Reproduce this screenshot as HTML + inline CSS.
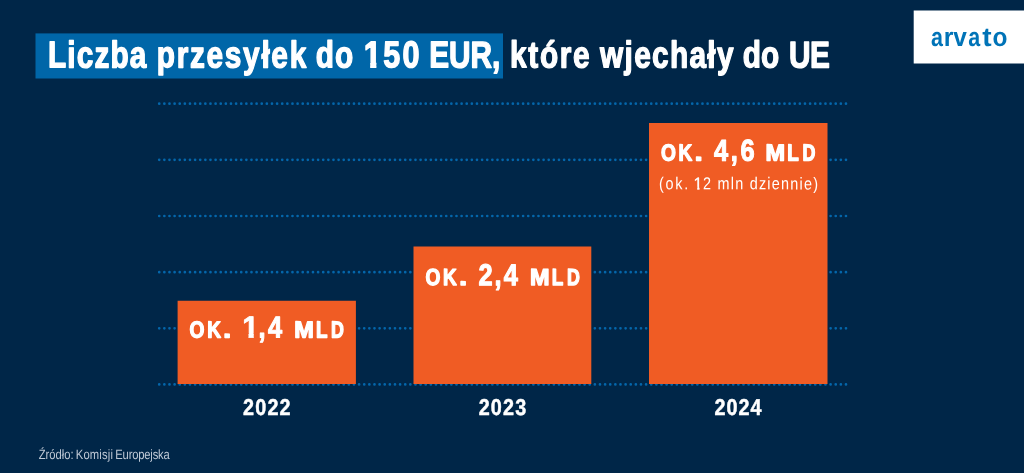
<!DOCTYPE html>
<html lang="pl"><head><meta charset="utf-8"><title>Liczba przesyłek do 150 EUR, które wjechały do UE</title>
<style>
html,body{margin:0;padding:0;background:#002648;overflow:hidden}
svg{display:block}
text{font-family:"Liberation Sans",sans-serif;white-space:pre;text-rendering:geometricPrecision;vector-effect:non-scaling-stroke;stroke-linejoin:round}
</style></head><body>
<svg width="1024" height="473" viewBox="0 0 1024 473">
<rect width="1024" height="473" fill="#002648"/>
<line x1="159.23" x2="846.5" y1="103.71" y2="103.71" stroke="#0466aa" stroke-width="2.7" stroke-linecap="round" stroke-dasharray="0 5.125"/>
<line x1="159.23" x2="846.5" y1="159.86" y2="159.86" stroke="#0466aa" stroke-width="2.7" stroke-linecap="round" stroke-dasharray="0 5.125"/>
<line x1="159.23" x2="846.5" y1="216.01" y2="216.01" stroke="#0466aa" stroke-width="2.7" stroke-linecap="round" stroke-dasharray="0 5.125"/>
<line x1="159.23" x2="846.5" y1="272.16" y2="272.16" stroke="#0466aa" stroke-width="2.7" stroke-linecap="round" stroke-dasharray="0 5.125"/>
<line x1="159.23" x2="846.5" y1="328.31" y2="328.31" stroke="#0466aa" stroke-width="2.7" stroke-linecap="round" stroke-dasharray="0 5.125"/>
<line x1="159.23" x2="846.5" y1="384.46" y2="384.46" stroke="#0466aa" stroke-width="2.7" stroke-linecap="round" stroke-dasharray="0 5.125"/>
<rect x="35.5" y="33.4" width="467.5" height="45.1" fill="#0066a8"/>
<rect x="177.6" y="300.75" width="178.3" height="83.25" fill="#f05c24"/>
<rect x="413.5" y="246.5" width="177.8" height="137.50" fill="#f05c24"/>
<rect x="649.0" y="123.0" width="178.5" height="261.00" fill="#f05c24"/>
<rect x="913.7" y="10.5" width="110.3" height="53.0" fill="#fff"/>
<clipPath id="k1"><path clip-rule="evenodd" d="M-99 -999H2999V999H-99ZM454.89 61.58H462.85V68.73H454.89ZM470.50 61.58H477.46V68.73H470.50Z"/></clipPath>
<text transform="rotate(0.05) scale(0.8 1)" fill="#fff" stroke="#fff" font-weight="700" clip-path="url(#k1)"><tspan x="60.17" y="67.33" font-size="37.24" stroke-width="1.35" letter-spacing="1.388">Liczba </tspan><tspan x="196.04" y="67.24" font-size="37.24" stroke-width="1.35" letter-spacing="2.133">przesyłek </tspan><tspan x="394.67" y="67.10" font-size="37.24" stroke-width="1.35" letter-spacing="1.313">do </tspan><tspan x="454.87" y="67.06" font-size="37.24" stroke-width="1.35" textLength="21.74" lengthAdjust="spacingAndGlyphs">1</tspan><tspan x="479.14" y="67.04" font-size="37.24" stroke-width="1.35" textLength="21.20" lengthAdjust="spacingAndGlyphs">5</tspan><tspan x="503.26" y="67.02" font-size="37.24" stroke-width="1.35" textLength="31.82" lengthAdjust="spacingAndGlyphs">0 </tspan><tspan x="536.79" y="67.00" font-size="37.24" stroke-width="1.35" letter-spacing="-0.146">EUR, </tspan><tspan x="637.67" y="66.93" font-size="37.24" stroke-width="1.35" letter-spacing="2.078">które </tspan><tspan x="750.17" y="66.85" font-size="37.24" stroke-width="1.35" letter-spacing="1.652">wjechały </tspan><tspan x="928.54" y="66.73" font-size="37.24" stroke-width="1.35" letter-spacing="0.187">do </tspan><tspan x="986.42" y="66.69" font-size="37.24" stroke-width="1.35" letter-spacing="-0.813">UE</tspan></text>
<clipPath id="k2"><path clip-rule="evenodd" d="M-99 -999H2999V999H-99ZM288.92 333.09H296.19V338.94H288.92ZM302.44 333.09H308.77V338.94H302.44Z"/></clipPath>
<text transform="rotate(0.05) scale(0.84 1)" fill="#fff" stroke="#fff" font-weight="700" clip-path="url(#k2)"><tspan x="226.06" y="337.31" font-size="23.2" stroke-width="1.35" textLength="17.72" lengthAdjust="spacingAndGlyphs">O</tspan><tspan x="246.96" y="337.29" font-size="23.2" stroke-width="1.35" textLength="16.29" lengthAdjust="spacingAndGlyphs">K</tspan><tspan x="266.13" y="337.28" font-size="23.2" stroke-width="1.35" textLength="18.65" lengthAdjust="spacingAndGlyphs">. </tspan><tspan x="288.73" y="337.59" font-size="30.84" stroke-width="0.7" textLength="19.50" lengthAdjust="spacingAndGlyphs">1</tspan><tspan x="308.05" y="337.37" font-size="30.25" stroke-width="1.1" letter-spacing="2.833">,4 </tspan><tspan x="350.54" y="337.22" font-size="23.2" stroke-width="1.35" textLength="23.29" lengthAdjust="spacingAndGlyphs">M</tspan><tspan x="376.49" y="337.20" font-size="23.2" stroke-width="1.35" textLength="13.71" lengthAdjust="spacingAndGlyphs">L</tspan><tspan x="394.42" y="337.19" font-size="23.2" stroke-width="1.35" textLength="15.33" lengthAdjust="spacingAndGlyphs">D</tspan></text>
<text transform="rotate(0.05) scale(0.84 1)" fill="#fff" stroke="#fff" font-weight="700"><tspan x="506.84" y="284.70" font-size="23.2" stroke-width="1.35" textLength="17.72" lengthAdjust="spacingAndGlyphs">O</tspan><tspan x="527.74" y="284.69" font-size="23.2" stroke-width="1.35" textLength="16.29" lengthAdjust="spacingAndGlyphs">K</tspan><tspan x="546.91" y="284.67" font-size="23.2" stroke-width="1.35" textLength="18.65" lengthAdjust="spacingAndGlyphs">. </tspan><tspan x="569.95" y="284.78" font-size="30.25" stroke-width="1.1" letter-spacing="2.357">2,4 </tspan><tspan x="631.32" y="284.61" font-size="23.2" stroke-width="1.35" textLength="23.29" lengthAdjust="spacingAndGlyphs">M</tspan><tspan x="657.27" y="284.59" font-size="23.2" stroke-width="1.35" textLength="13.71" lengthAdjust="spacingAndGlyphs">L</tspan><tspan x="675.20" y="284.58" font-size="23.2" stroke-width="1.35" textLength="15.33" lengthAdjust="spacingAndGlyphs">D</tspan></text>
<text transform="rotate(0.05) scale(0.84 1)" fill="#fff" stroke="#fff" font-weight="700"><tspan x="787.07" y="160.05" font-size="23.2" stroke-width="1.35" textLength="17.72" lengthAdjust="spacingAndGlyphs">O</tspan><tspan x="807.96" y="160.03" font-size="23.2" stroke-width="1.35" textLength="16.29" lengthAdjust="spacingAndGlyphs">K</tspan><tspan x="827.13" y="160.02" font-size="23.2" stroke-width="1.35" textLength="18.65" lengthAdjust="spacingAndGlyphs">. </tspan><tspan x="850.32" y="160.13" font-size="30.25" stroke-width="1.1" letter-spacing="3.113">4,6 </tspan><tspan x="911.54" y="159.96" font-size="23.2" stroke-width="1.35" textLength="23.29" lengthAdjust="spacingAndGlyphs">M</tspan><tspan x="937.50" y="159.94" font-size="23.2" stroke-width="1.35" textLength="13.71" lengthAdjust="spacingAndGlyphs">L</tspan><tspan x="955.43" y="159.92" font-size="23.2" stroke-width="1.35" textLength="15.33" lengthAdjust="spacingAndGlyphs">D</tspan></text>
<clipPath id="k3"><path clip-rule="evenodd" d="M-99 -999H2999V999H-99ZM825.60 186.14H830.24V189.69H825.60ZM832.88 186.14H836.87V189.69H832.88Z"/></clipPath>
<text transform="rotate(0.05) scale(0.84 1)" fill="#fff" stroke="#fff" font-weight="400" clip-path="url(#k3)"><tspan x="784.79" y="188.72" font-size="17.16" stroke="none" letter-spacing="2.008">(ok. </tspan><tspan x="825.92" y="188.54" font-size="16.73" stroke-width="0.3" textLength="10.60" lengthAdjust="spacingAndGlyphs">1</tspan><tspan x="837.07" y="188.69" font-size="17.16" stroke="none" letter-spacing="1.473">2 mln dziennie)</tspan></text>
<text transform="rotate(0.05) scale(0.86 1)" fill="#fff" stroke="#fff" font-weight="700"><tspan x="283.10" y="414.79" font-size="22.98" stroke-width="0.5" letter-spacing="1.368">2022</tspan></text>
<text transform="rotate(0.05) scale(0.86 1)" fill="#fff" stroke="#fff" font-weight="700"><tspan x="557.05" y="414.58" font-size="22.98" stroke-width="0.5" letter-spacing="1.368">2023</tspan></text>
<text transform="rotate(0.05) scale(0.86 1)" fill="#fff" stroke="#fff" font-weight="700"><tspan x="831.36" y="414.38" font-size="22.98" stroke-width="0.5" letter-spacing="1.118">2024</tspan></text>
<text transform="rotate(0.05) scale(0.83 1)" fill="#bfc9d6" stroke="#bfc9d6" font-weight="400"><tspan x="47.09" y="458.87" font-size="13.53" stroke="none" letter-spacing="-0.002">Źródło: </tspan><tspan x="91.77" y="458.83" font-size="13.53" stroke="none" letter-spacing="0.210">Komisji </tspan><tspan x="139.36" y="458.80" font-size="13.53" stroke="none" letter-spacing="-0.215">Europejska</tspan></text>
<text transform="rotate(0.05) scale(0.95 1)" fill="#0073b7" stroke="#0073b7" font-weight="700"><tspan x="979.93" y="45.19" font-size="26.35" stroke="none" textLength="12.56" lengthAdjust="spacingAndGlyphs">a</tspan><tspan x="993.58" y="45.18" font-size="26.35" stroke="none" textLength="10.12" lengthAdjust="spacingAndGlyphs">r</tspan><tspan x="1003.38" y="45.17" font-size="26.35" stroke="none" textLength="14.29" lengthAdjust="spacingAndGlyphs">v</tspan><tspan x="1019.19" y="45.16" font-size="26.35" stroke="none" textLength="12.56" lengthAdjust="spacingAndGlyphs">a</tspan><tspan x="1033.87" y="45.14" font-size="26.35" stroke="none" textLength="9.85" lengthAdjust="spacingAndGlyphs">t</tspan><tspan x="1044.75" y="45.13" font-size="26.35" stroke="none" textLength="15.73" lengthAdjust="spacingAndGlyphs">o</tspan></text>
</svg>
</body></html>
